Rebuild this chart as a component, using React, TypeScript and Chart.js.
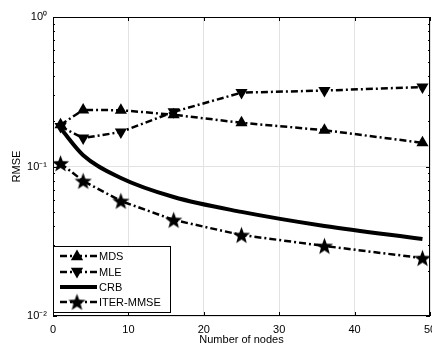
import React, { useEffect, useRef } from "react";
import { Chart, registerables } from "chart.js";
Chart.register(...registerables);

const nodes = [1, 4, 9, 16, 25, 36, 49];
const mds = [0.19, 0.239, 0.238, 0.222, 0.196, 0.175, 0.144];
const mle = [0.185, 0.155, 0.17, 0.232, 0.312, 0.322, 0.34];
const crb = [0.18, 0.119, 0.0838, 0.0625, 0.0497, 0.040, 0.0327];
const iterMmse = [0.105, 0.080, 0.0588, 0.0439, 0.0348, 0.0294, 0.0244];
const seriesNames = ["MDS", "MLE", "CRB", "ITER-MMSE"];
const xTicks = [0, 10, 20, 30, 40, 50];

const FONT = "'Liberation Sans', Arial, sans-serif";
const DASHDOT = [7, 3, 2, 3];

function makeStar(size: number): HTMLCanvasElement {
  const c = document.createElement("canvas");
  c.width = size;
  c.height = size;
  const g = c.getContext("2d")!;
  const cx = size / 2, cy = size / 2 + 0.8, R = size / 2 - 0.5, r = R * 0.42;
  g.beginPath();
  for (let i = 0; i < 10; i++) {
    const a = -Math.PI / 2 + (i * Math.PI) / 5;
    const rr = i % 2 === 0 ? R : r;
    const px = cx + rr * Math.cos(a), py = cy + rr * Math.sin(a);
    if (i === 0) g.moveTo(px, py); else g.lineTo(px, py);
  }
  g.closePath();
  g.fillStyle = "#000";
  g.fill();
  return c;
}

function drawTri(ctx: CanvasRenderingContext2D, x: number, y: number, r: number, down: boolean) {
  const s = down ? -1 : 1;
  ctx.beginPath();
  ctx.moveTo(x, y - s * r);
  ctx.lineTo(x + r * 0.95, y + s * r * 0.65);
  ctx.lineTo(x - r * 0.95, y + s * r * 0.65);
  ctx.closePath();
  ctx.fillStyle = "#000";
  ctx.fill();
}

const framePlugin = {
  id: "frame",
  afterDraw(chart: any) {
    const { ctx, chartArea: a, scales } = chart;
    ctx.save();
    ctx.strokeStyle = "#000";
    ctx.lineWidth = 1;
    ctx.strokeRect(a.left + 0.5, a.top + 0.5, a.right - a.left - 1, a.bottom - a.top - 1);
    ctx.beginPath();
    for (const t of xTicks) {
      const px = Math.round(scales.x.getPixelForValue(t)) + 0.5;
      ctx.moveTo(px, a.bottom); ctx.lineTo(px, a.bottom - 4);
      ctx.moveTo(px, a.top); ctx.lineTo(px, a.top + 4);
    }
    for (let e = -2; e < 0; e++) {
      for (let m = 1; m <= 9; m++) {
        const v = m * Math.pow(10, e);
        const py = Math.round(scales.y.getPixelForValue(v)) + 0.5;
        const len = m === 1 ? 4 : 2;
        ctx.moveTo(a.left, py); ctx.lineTo(a.left + len, py);
        ctx.moveTo(a.right, py); ctx.lineTo(a.right - len, py);
      }
    }
    ctx.stroke();

    // legend
    const lx = a.left, ly = 246, lw = 117, lh = 66;
    ctx.fillStyle = "#fff";
    ctx.fillRect(lx, ly, lw, lh);
    ctx.strokeRect(lx + 0.5, ly + 0.5, lw, lh);
    const rows = [256, 272, 287, 302];
    ctx.font = `11px ${FONT}`;
    ctx.textBaseline = "middle";
    ctx.textAlign = "left";
    chart.data.datasets.forEach((ds: any, i: number) => {
      const y = rows[i];
      ctx.save();
      ctx.strokeStyle = "#000";
      ctx.lineWidth = i === 2 ? 4 : 2.5;
      ctx.setLineDash(i === 2 ? [] : DASHDOT);
      ctx.beginPath();
      ctx.moveTo(60, y); ctx.lineTo(97, y);
      ctx.stroke();
      ctx.restore();
      if (i === 0) drawTri(ctx, 77, y, 6.5, false);
      if (i === 1) drawTri(ctx, 77, y, 6.5, true);
      if (i === 3) ctx.drawImage(ds.pointStyle, 77 - ds.pointStyle.width / 2, y - ds.pointStyle.height / 2);
      ctx.fillStyle = "#000";
      ctx.fillText(ds.label, 99, y + 0.5);
    });
    ctx.restore();
  },
};

function sup(n: number): string {
  const map: Record<string, string> = { "-": "\u207B", "0": "\u2070", "1": "\u00B9", "2": "\u00B2" };
  return String(n).split("").map((c) => map[c] ?? c).join("");
}

export default function App() {
  const ref = useRef<HTMLCanvasElement>(null);
  useEffect(() => {
    document.body.style.margin = "0";
    const star = makeStar(19);
    const chart = new Chart(ref.current!, {
      type: "line",
      data: {
        datasets: [
          {
            label: seriesNames[0],
            data: nodes.map((x, i) => ({ x, y: mds[i] })),
            borderColor: "#000", backgroundColor: "#000", borderWidth: 2.5,
            borderDash: DASHDOT, pointStyle: "triangle", pointRadius: 7, pointBorderWidth: 0,
          },
          {
            label: seriesNames[1],
            data: nodes.map((x, i) => ({ x, y: mle[i] })),
            borderColor: "#000", backgroundColor: "#000", borderWidth: 2.5,
            borderDash: DASHDOT, pointStyle: "triangle", rotation: 180, pointRadius: 7, pointBorderWidth: 0,
          },
          {
            label: seriesNames[2],
            data: nodes.map((x, i) => ({ x, y: crb[i] })),
            borderColor: "#000", backgroundColor: "#000", borderWidth: 4,
            pointRadius: 0, cubicInterpolationMode: "monotone",
          },
          {
            label: seriesNames[3],
            data: nodes.map((x, i) => ({ x, y: iterMmse[i] })),
            borderColor: "#000", backgroundColor: "#000", borderWidth: 2.5,
            borderDash: DASHDOT, pointStyle: star as any, pointRadius: 9,
          },
        ],
      },
      options: {
        animation: false,
        responsive: false,
        maintainAspectRatio: false,
        layout: { autoPadding: false, padding: { top: 17, right: 2, left: 0, bottom: 0 } } as any,
        plugins: { legend: { display: false }, tooltip: { enabled: false } },
        scales: {
          x: {
            type: "linear", min: 0, max: 50,
            afterBuildTicks: (s: any) => { s.ticks = xTicks.map((v) => ({ value: v })); },
            afterFit: (s: any) => { s.height = 30; s.paddingLeft = 0; s.paddingRight = 0; },
            border: { display: false },
            grid: { color: "#e2e2e2", borderDash: [1, 6], drawTicks: false, lineWidth: 1 } as any,
            ticks: { color: "#000", font: { family: FONT, size: 11 }, padding: 7, maxRotation: 0, autoSkip: false },
            title: { display: true, text: "Number of nodes", color: "#000", font: { family: FONT, size: 11, lineHeight: 1.1 }, padding: { top: 0, bottom: 0 } },
          },
          y: {
            type: "logarithmic", min: 0.01, max: 1,
            afterBuildTicks: (s: any) => { s.ticks = [0.01, 0.1, 1].map((v) => ({ value: v })); },
            afterFit: (s: any) => { s.width = 53; s.paddingTop = 0; s.paddingBottom = 0; },
            border: { display: false },
            grid: { color: "#e2e2e2", borderDash: [1, 6], drawTicks: false, lineWidth: 1 } as any,
            ticks: {
              color: "#000", font: { family: FONT, size: 11 }, padding: 6, autoSkip: false,
              callback: (v: any) => "10" + sup(Math.round(Math.log10(Number(v)))),
            },
            title: { display: true, text: "RMSE", color: "#000", font: { family: FONT, size: 11 }, padding: { top: 10, bottom: 0 } },
          },
        },
      },
      plugins: [framePlugin],
    });
    return () => chart.destroy();
  }, []);
  return (
    <div style={{ position: "absolute", left: 0, top: 0, width: 432, height: 346, background: "#fff" }}>
      <canvas ref={ref} width={432} height={346} style={{ width: 432, height: 346 }} />
    </div>
  );
}
